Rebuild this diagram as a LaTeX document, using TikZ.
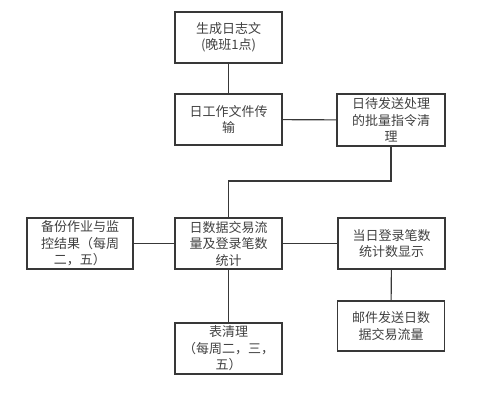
\documentclass[tikz,border=0pt]{standalone}
\usepackage{fontspec}
\setmainfont{Noto Sans CJK SC}
\begin{document}
\begin{tikzpicture}[x=1pt,y=-1pt,
  stepbox/.style={draw=black!78,line width=1.1pt,minimum width=107pt,minimum height=51pt,
    align=center,inner sep=1pt,text=black!75,font=\fontsize{13}{16.5}\selectfont},
  link/.style={draw=black!78,line width=1.1pt}]
  \useasboundingbox (0,0) rectangle (495,400);

  % Upper chain
  \node[stepbox] (gen) at (228.5,37.5) {生成日志文\\(晚班1点)};
  \node[stepbox] (xfer) at (228.5,119.5) {日工作文件传\\输};
  \node[stepbox,minimum width=108pt,minimum height=52pt] (batch) at (391,120)
    {日待发送处理\\的批量指令清\\理};

  % Middle row
  \node[stepbox] (stat) at (228.5,243.5) {日数据交易流\\量及登录笔数\\统计};
  \node[stepbox,minimum width=106pt] (backup) at (80,243.5) {备份作业与监\\控结果（每周\\二，五）};
  \node[stepbox] (show) at (391.5,243.5) {当日登录笔数\\统计数显示};

  % Lower row
  \node[stepbox,minimum height=50pt] (mail) at (391,326) {邮件发送日数\\据交易流量};
  \node[stepbox] (clean) at (228.5,348.5) {表清理\\（每周二，三，\\五）};

  % Connectors
  \coordinate (bend) at (228.5,181);
  \draw[link] (gen) -- (xfer);
  \draw[link] (xfer) -- (batch);
  \draw[link] (batch.south) |- (bend) -- (stat.north);
  \draw[link] (backup) -- (stat);
  \draw[link] (stat) -- (show);
  \draw[link] (show) -- (mail);
  \draw[link] (stat) -- (clean);
\end{tikzpicture}
\end{document}
